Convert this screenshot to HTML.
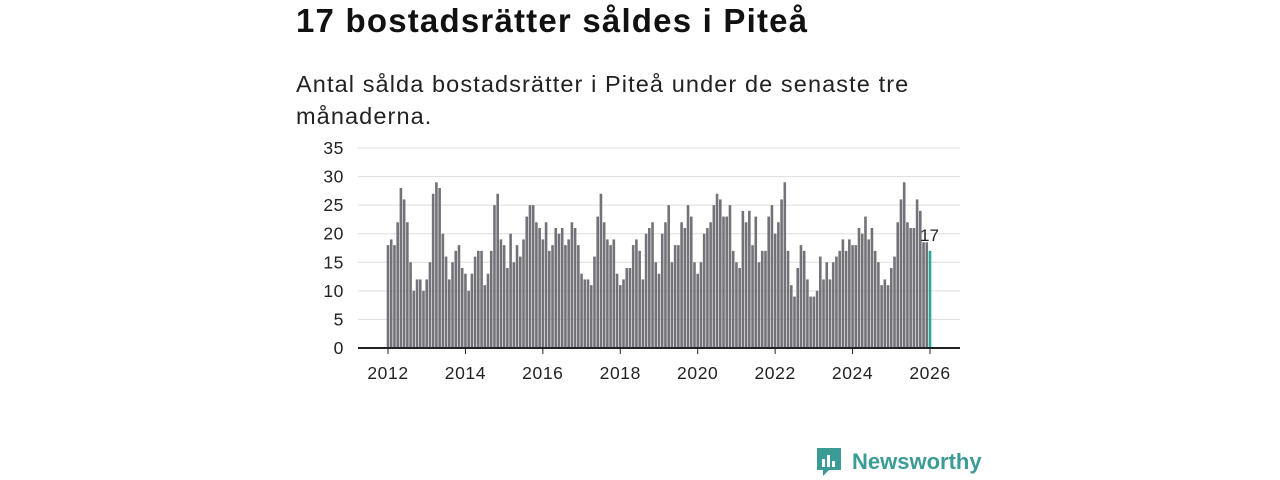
<!DOCTYPE html>
<html><head><meta charset="utf-8">
<style>
body{margin:0;width:1280px;height:480px;background:#fff;font-family:"Liberation Sans",sans-serif;overflow:hidden;position:relative}
#title{position:absolute;left:296px;top:2px;font-size:33px;font-weight:bold;color:#111;margin:0;letter-spacing:1.2px}
#sub{position:absolute;left:296px;top:68px;font-size:23.5px;color:#222;line-height:32px;width:680px;letter-spacing:1.1px}
svg{position:absolute;left:0;top:0}
</style></head><body>
<h1 id="title">17 bostadsrätter såldes i Piteå</h1>
<div id="sub">Antal sålda bostadsrätter i Piteå under de senaste tre månaderna.</div>
<svg id="chart" width="1280" height="480"></svg>
<script>
const yTicks=[0,5,10,15,20,25,30,35];
const xYears=[2012,2014,2016,2018,2020,2022,2024,2026];
const startYear=2012;
const values=[
18,19,18,22,28,26,22,15,10,12,12,10,
12,15,27,29,28,20,16,12,15,17,18,14,
13,10,13,16,17,17,11,13,17,25,27,19,
18,14,20,15,18,16,19,23,25,25,22,21,
19,22,17,18,21,20,21,18,19,22,21,18,
13,12,12,11,16,23,27,22,19,18,19,13,
11,12,14,14,18,19,17,12,20,21,22,15,
13,20,22,25,15,18,18,22,21,25,23,15,
13,15,20,21,22,25,27,26,23,23,25,17,
15,14,24,22,24,18,23,15,17,17,23,25,
20,22,26,29,17,11,9,14,18,17,12,9,
9,10,16,12,15,12,15,16,17,19,17,19,
18,18,21,20,23,19,21,17,15,11,12,11,
14,16,22,26,29,22,21,21,26,24,18.5,18.5,
17];
const svg=document.getElementById('chart');
const NS='http://www.w3.org/2000/svg';
const x0=388,x1=930,yb=348,yt=148,left=358,right=960;
const xs=t=>x0+(t-startYear)/(2026-startYear)*(x1-x0);
const ys=v=>yb-v/35*(yb-yt);
function mk(tag,attrs){const e=document.createElementNS(NS,tag);for(const k in attrs)e.setAttribute(k,attrs[k]);svg.appendChild(e);return e;}
yTicks.forEach(v=>{
 if(v>0){const g=mk('line',{x1:left,x2:right,y1:ys(v),y2:ys(v),stroke:'#ddd','stroke-width':1});
 
 }
 const t=mk('text',{x:344,y:ys(v)+6,'text-anchor':'end','font-size':17.5,fill:'#222','font-family':'Liberation Sans, sans-serif','letter-spacing':'0.6'});
 t.textContent=v;
 
 
});
values.forEach((v,i)=>{
 const cx=xs(startYear+i/12);
 const last=i===values.length-1;
 const r=mk('rect',{x:cx-1.3,y:ys(v),width:2.6,height:yb-ys(v),fill:last?'#2aa79b':'#727278'});
 
 
 if(last){const l=mk('text',{x:cx-10,y:ys(v)-10,'font-size':17,fill:'#222','font-family':'Liberation Sans, sans-serif'});l.textContent=v;
 
 }
});
const ax=mk('line',{x1:left,x2:right,y1:yb,y2:yb,stroke:'#222','stroke-width':2});


xYears.forEach(yr=>{
 const k=mk('line',{x1:xs(yr),x2:xs(yr),y1:yb,y2:yb+6,stroke:'#222','stroke-width':1});
 
 
 const t=mk('text',{x:xs(yr),y:379,'text-anchor':'middle','font-size':17.5,fill:'#222','font-family':'Liberation Sans, sans-serif','letter-spacing':'0.6'});
 t.textContent=yr;
 
 
});
</script>
<div style="position:absolute;left:815px;top:446px;display:flex;align-items:center">
<svg width="28" height="32" style="position:static" viewBox="0 0 28 32"><path d="M2 2h24v22H14l-6 6v-6H2z" fill="#3a9c94"/><rect x="7" y="13" width="3" height="8" fill="#fff"/><rect x="12" y="9" width="3" height="12" fill="#fff"/><rect x="17" y="15" width="3" height="6" fill="#fff"/></svg>
<span style="font-size:22px;font-weight:bold;color:#3a9c94;margin-left:9px">Newsworthy</span></div>
</body></html>
